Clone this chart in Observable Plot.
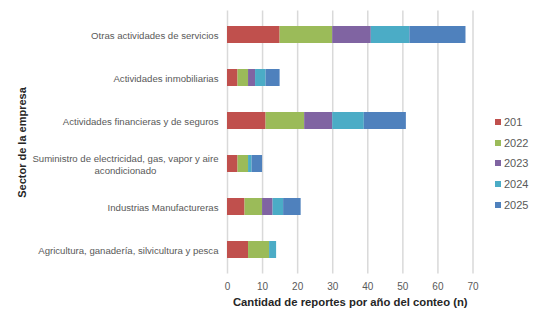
<!DOCTYPE html>
<html>
<head>
<meta charset="utf-8">
<script src="https://cdn.jsdelivr.net/npm/d3@7"></script>
<script src="https://cdn.jsdelivr.net/npm/@observablehq/plot@0.6"></script>
<style>
  html, body { margin: 0; padding: 0; background: #fff; }
  #wrap { position: relative; width: 541px; height: 325px; font-family: "Liberation Sans", Arial, sans-serif; }
  #legend { position: absolute; left: 495px; top: 112px; font-size: 11px; color: #595959; }
  #legend .item { display: flex; align-items: center; height: 20.6px; }
  #legend .sw { width: 6px; height: 6px; margin-right: 3px; }
</style>
</head>
<body>
<div id="wrap"></div>
<script>
// Sectors, top to bottom
const sectors = [
  "Otras actividades de servicios",
  "Actividades inmobiliarias",
  "Actividades financieras y de seguros",
  "Suministro de electricidad, gas, vapor y aire acondicionado",
  "Industrias Manufactureras",
  "Agricultura, ganadería, silvicultura y pesca"
];
const sectorLabels = [
  "Otras actividades de servicios",
  "Actividades inmobiliarias",
  "Actividades financieras y de seguros",
  "Suministro de electricidad, gas, vapor y aire\nacondicionado",
  "Industrias Manufactureras",
  "Agricultura, ganadería, silvicultura y pesca"
];
const years = ["201", "2022", "2023", "2024", "2025"];
const colors = ["#C0504D", "#9BBB59", "#8064A2", "#4BACC6", "#4F81BD"];

// counts per year, same order as sectors
const v201  = [15, 3, 11, 3, 5, 6];
const v2022 = [15, 3, 11, 3, 5, 6];
const v2023 = [11, 2, 8, 0, 3, 0];
const v2024 = [11, 3, 9, 1, 3, 2];
const v2025 = [16, 4, 12, 3, 5, 0];
const xTicks = [0, 10, 20, 30, 40, 50, 60, 70];

const yTitle = "Sector de la empresa";
const xTitle = "Cantidad de reportes por año del conteo (n)";

const series = [v201, v2022, v2023, v2024, v2025];
const data = [];
years.forEach((yr, j) => sectors.forEach((s, i) => data.push({sector: s, year: yr, value: series[j][i]})));
const labelOf = new Map(sectors.map((s, i) => [s, sectorLabels[i]]));

const chart = Plot.plot({
  width: 541,
  height: 325,
  marginLeft: 227,
  marginRight: 68.5,
  marginTop: 10.6,
  marginBottom: 51.6,
  style: {fontFamily: "'Liberation Sans', Arial, sans-serif", background: "#fff"},
  x: {domain: [0, 70], ticks: xTicks},
  y: {domain: sectors, paddingInner: 0.61, paddingOuter: 0.305},
  color: {domain: years, range: colors},
  marks: [
    Plot.gridX(xTicks, {stroke: "#d9d9d9", strokeOpacity: 1, strokeWidth: 1.5}),
    Plot.barX(data, Plot.stackX({x: "value", y: "sector", fill: "year", order: years})),
    Plot.axisX(xTicks, {tickSize: 0, tickPadding: 9, fontSize: 10, fill: "#595959", label: null}),
    Plot.axisY({tickSize: 0, tickPadding: 9, fontSize: 9.6, fill: "#595959", label: null, lineHeight: 1.3, tickFormat: d => labelOf.get(d)}),
    Plot.text([xTitle], {frameAnchor: "bottom", dy: 32, fontSize: 11.3, fontWeight: "bold", fill: "#262626"}),
    Plot.text([yTitle], {frameAnchor: "left", dx: -205, rotate: -90, textAnchor: "middle", fontSize: 11, fontWeight: "bold", fill: "#262626"})
  ]
});
const wrap = document.getElementById("wrap");
wrap.appendChild(chart);

// center the multi-line tick label like the reference
chart.querySelectorAll("g[aria-label='y-axis tick label'] text").forEach(t => {
  if (t.querySelectorAll("tspan").length > 1) {
    const bb = t.getBBox();
    const cx = bb.x + bb.width / 2;
    t.setAttribute("text-anchor", "middle");
    t.querySelectorAll("tspan").forEach(ts => ts.setAttribute("x", cx));
  }
});

const legend = document.createElement("div");
legend.id = "legend";
years.forEach((yr, j) => {
  const it = document.createElement("div");
  it.className = "item";
  const sw = document.createElement("div");
  sw.className = "sw";
  sw.style.background = colors[j];
  const tx = document.createElement("span");
  tx.textContent = yr;
  it.appendChild(sw); it.appendChild(tx);
  legend.appendChild(it);
});
wrap.appendChild(legend);
</script>
</body>
</html>
